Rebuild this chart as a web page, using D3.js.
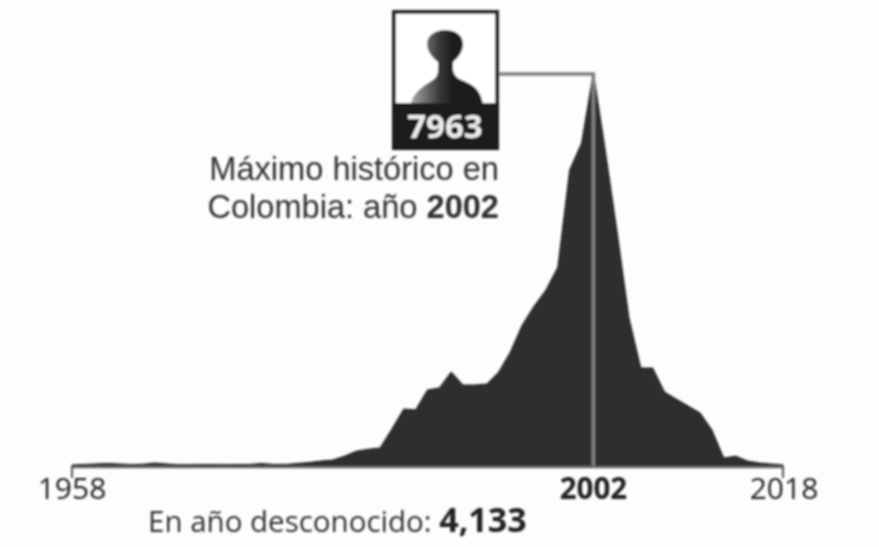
<!DOCTYPE html>
<html><head><meta charset="utf-8">
<script src="https://cdn.jsdelivr.net/npm/d3@7"></script>
<style>html,body{margin:0;padding:0;background:#fdfdfd}svg{display:block}</style></head>
<body><svg id="c" width="879" height="547"></svg>
<script>
const years = d3.range(1958, 2019);
const values = [20,30,40,50,40,25,35,60,40,25,25,30,30,25,30,30,50,30,30,50,70,
  100,120,200,300,340,365,750,1155,1135,1540,1580,1905,1640,1640,1660,1900,2310,2857,3240,3565,4030,6000,6540,
  7963,6400,4740,3000,1985,1985,1500,1355,1215,1075,730,160,200,100,60,40,20];
const tickYears = [1958, 2002, 2018];
const peakYear = 2002, peakValue = 7963;

const svg = d3.select("#c");
const defs = svg.append("defs");
defs.append("filter").attr("id","soft").attr("x","-5%").attr("y","-5%").attr("width","110%").attr("height","110%")
  .append("feGaussianBlur").attr("stdDeviation",0.9);
const g0 = defs.append("linearGradient").attr("id","sil");
g0.append("stop").attr("offset","0").attr("stop-color","#a8a8a8");
g0.append("stop").attr("offset","0.4").attr("stop-color","#383637");
g0.append("stop").attr("offset","0.6").attr("stop-color","#1c1a1b");
g0.append("stop").attr("offset","1").attr("stop-color","#1c1a1b");

const root = svg.append("g").attr("filter","url(#soft)");
const x = d3.scaleLinear().domain([1958,2018]).range([72,783]);
const y = d3.scaleLinear().domain([0,peakValue]).range([466,73]);
const area = d3.area().x((d,i)=>x(years[i])).y0(y(0)).y1(d=>y(d));
root.append("path").datum(values).attr("d",area).attr("fill","#2f2f2f").attr("stroke","#1a1a1a").attr("stroke-width",1);

// axis
root.append("line").attr("x1",x(1958)).attr("x2",x(2018)).attr("y1",467).attr("y2",467).attr("stroke","#666").attr("stroke-width",2.5);
[1958,2018].forEach(t=>root.append("line").attr("x1",x(t)).attr("x2",x(t)).attr("y1",466).attr("y2",478).attr("stroke","#555").attr("stroke-width",2));
root.selectAll("text.tick").data(tickYears).join("text").attr("class","tick")
  .attr("x",d=>x(d)+(d===1958?0:d===2018?1:0)).attr("y",499).attr("text-anchor","middle")
  .attr("font-family","'Open Sans'").attr("font-size",d=>d===peakYear?29.5:30)
  .attr("font-weight",d=>d===peakYear?700:400).attr("fill","#222").text(d=>d);

// leader
root.append("polyline").attr("points",[[499,74],[x(peakYear),74],[x(peakYear),466]].join(" ")).attr("fill","none").attr("stroke","#808080").attr("stroke-width",3.5);

// card
root.append("rect").attr("x",394).attr("y",12).attr("width",103).attr("height",136).attr("fill","#fff").attr("stroke","#2b2b2b").attr("stroke-width",4);
root.append("path").attr("fill","url(#sil)").attr("d","M411,104 C412,95 420,88 430,82 C435,79 438,76 438,70 L438,62 C430,56 427,49 427,44 C427,35 436,30 445,30 C455,30 463,35 463,44 C463,51 459,57 453,62 L453,70 C454,76 458,79 464,81 C472,85 480,88 483,104 Z");
root.append("rect").attr("x",392).attr("y",103).attr("width",107).attr("height",47).attr("fill","#1c1a1b");
root.append("text").attr("x",445).attr("y",138).attr("text-anchor","middle").attr("font-family","'Open Sans'").attr("font-weight",700).attr("font-size",33).attr("fill","#eee").text(peakValue);

// notes
const lab = root.append("g").attr("font-family","'Liberation Sans'").attr("font-size",32.6).attr("fill","#333").attr("text-anchor","end");
lab.append("text").attr("x",499).attr("y",180).text("Máximo histórico en");
const l2 = lab.append("text").attr("x",499).attr("y",218);
l2.append("tspan").text("Colombia: año ");
l2.append("tspan").attr("font-weight",700).text("2002");
const un = root.append("text").attr("x",148).attr("y",532).attr("font-family","'Open Sans'").attr("font-size",29.5).attr("fill","#333");
un.append("tspan").text("En año desconocido: ");
un.append("tspan").attr("font-weight",700).attr("font-size",34).attr("fill","#222").text("4,133");
</script></body></html>
